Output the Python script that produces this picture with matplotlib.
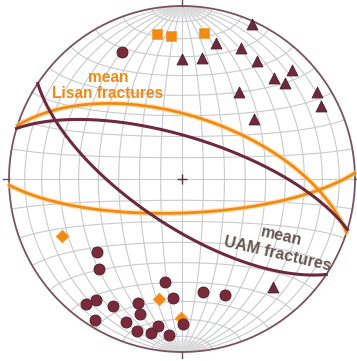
import numpy as np
import matplotlib
matplotlib.use("Agg")
import matplotlib.pyplot as plt

# mean fracture planes: dip direction / dip (degrees)
lisan_dipdir = [18, 178]
lisan_dip = [60, 74]
uam_dipdir = [213.5, 17]
uam_dip = [68, 70]

# poles, trend / plunge (degrees)
tri_trend = [24.3, 14.1, 24.3, 0.0, 9.5, 32.5, 45.3, 42.3, 47.0, 57.2, 62.3, 33.2, 50.2, 139.9]
tri_plunge = [2, 20, 18, 31, 30, 20, 11.5, 22, 20, 8, 10, 40, 45, 19.5]

dot_trend = [334.5, 229.3, 222.7, 189.4, 184.3, 215.4, 217.5, 208.5, 199.5, 197.3,
             211.7, 201.4, 196.5, 191.4, 189.3, 184.8, 179.6, 169.5, 159.7]
dot_plunge = [20, 35.5, 30, 39.5, 31.6, 15.3, 9.8, 17.6, 24.9, 19.4,
              4.7, 12.2, 9.2, 10.1, 15, 10.4, 17.3, 34, 29.2]

sq_trend = [350.2, 355.6, 8.6]
sq_plunge = [16, 18, 16]

dia_trend = [244.6, 190.8, 180.4]
dia_plunge = [24, 30, 20.5]

ORANGE = "#f28a12"
MAROON = "#6e2a3c"
DOT = "#7b2a3c"
GRID = "#c8cacd"


def proj(e, n, d):
    # lower hemisphere equal-area (Schmidt), unit radius
    k = 1.0 / np.sqrt(1.0 + d)
    return e * k, n * k


def line_xy(trend, plunge):
    tr = np.radians(np.asarray(trend, float))
    pl = np.radians(np.asarray(plunge, float))
    return proj(np.cos(pl) * np.sin(tr), np.cos(pl) * np.cos(tr), np.sin(pl))


def plane_xy(dipdir, dip):
    dd = np.radians(dipdir)
    dp = np.radians(dip)
    st = dd - np.pi / 2
    t = np.linspace(0, np.pi, 300)
    e = np.cos(t) * np.sin(st) + np.sin(t) * np.cos(dp) * np.sin(dd)
    n = np.cos(t) * np.cos(st) + np.sin(t) * np.cos(dp) * np.cos(dd)
    d = np.sin(t) * np.sin(dp)
    return proj(e, n, d)


fig = plt.figure(figsize=(3.57, 3.61), dpi=100)
ax = fig.add_axes([0, 0, 1, 1])
R = 173.0
ax.set_xlim(-182 / R, 175 / R)
ax.set_ylim(-182 / R, 179 / R)
ax.set_aspect("equal")
ax.axis("off")

# net: meridians and small circles every 10 degrees
phi = np.radians(np.linspace(-90, 90, 400))
for lam in range(-80, 81, 10):
    l = np.radians(lam)
    x, y = proj(np.cos(phi) * np.sin(l), np.sin(phi), np.cos(phi) * np.cos(l))
    ax.plot(x, y, color=GRID, lw=0.8, zorder=1)
lamr = np.radians(np.linspace(-90, 90, 400))
for p in range(-80, 81, 10):
    pr = np.radians(p)
    x, y = proj(np.cos(pr) * np.sin(lamr), np.sin(pr) * np.ones_like(lamr), np.cos(pr) * np.cos(lamr))
    ax.plot(x, y, color=GRID, lw=0.8, zorder=1)
# finer meridians close to the poles
for lam in range(-88, 89, 2):
    l = np.radians(lam)
    for sgn in (1, -1):
        ph = np.radians(np.linspace(82, 90, 30)) * sgn
        x, y = proj(np.cos(ph) * np.sin(l), np.sin(ph), np.cos(ph) * np.cos(l))
        ax.plot(x, y, color="#dcdcdc", lw=0.3, zorder=1)

# primitive circle, ticks and centre
a = np.linspace(0, 2 * np.pi, 500)
ax.plot(np.cos(a), np.sin(a), color="#7a525c", lw=1.3, zorder=2)
for ang in (0, 90, 180, 270):
    r = np.radians(ang)
    ax.plot([np.cos(r), 1.035 * np.cos(r)], [np.sin(r), 1.035 * np.sin(r)],
            color="#6a5058", lw=1.0, zorder=2)
ax.plot(0, 0, marker="+", ms=7, mew=1.0, color=MAROON, zorder=3)

# great circles
for dd, dp in zip(lisan_dipdir, lisan_dip):
    x, y = plane_xy(dd, dp)
    ax.plot(x, y, color="#ffd08a", lw=4.0, alpha=0.6, zorder=3, solid_capstyle="round")
    ax.plot(x, y, color=ORANGE, lw=2.0, zorder=4)
for dd, dp in zip(uam_dipdir, uam_dip):
    x, y = plane_xy(dd, dp)
    ax.plot(x, y, color=MAROON, lw=2.2, zorder=4)

# poles
x, y = line_xy(dia_trend, dia_plunge)
ax.scatter(x, y, marker="D", s=42, color=ORANGE, edgecolor="#f6a040", lw=0.6, zorder=5)
x, y = line_xy(sq_trend, sq_plunge)
ax.scatter(x, y, marker="s", s=50, color=ORANGE, edgecolor="#f6a040", lw=0.6, zorder=5)
x, y = line_xy(dot_trend, dot_plunge)
ax.scatter(x, y, marker="o", s=62, color=DOT, edgecolor="#55202d", lw=0.7, zorder=6)
x, y = line_xy(tri_trend, tri_plunge)
ax.scatter(x, y, marker="^", s=62, color=MAROON, edgecolor="#4e1f2a", lw=0.6, zorder=6)

# labels
ax.text((108 - 182) / R, (179 - 77) / R, "mean", color=ORANGE, fontsize=11.2,
        fontweight="bold", family="Liberation Sans", ha="center", va="center", zorder=7)
ax.text((108 - 182) / R, (179 - 94) / R, "Lisan fractures", color=ORANGE, fontsize=11.2,
        fontweight="bold", family="Liberation Sans", ha="center", va="center", zorder=7)
ax.text((281 - 182) / R, (179 - 236) / R, "mean", color="#675550", fontsize=11.5,
        fontweight="bold", family="Liberation Sans", ha="center", va="center",
        rotation=-13, rotation_mode="anchor", zorder=7)
ax.text((277 - 182) / R, (179 - 254) / R, "UAM fractures", color="#675550", fontsize=11.5,
        fontweight="bold", family="Liberation Sans", ha="center", va="center",
        rotation=-13, rotation_mode="anchor", zorder=7)

fig.savefig("out.png", dpi=100)
